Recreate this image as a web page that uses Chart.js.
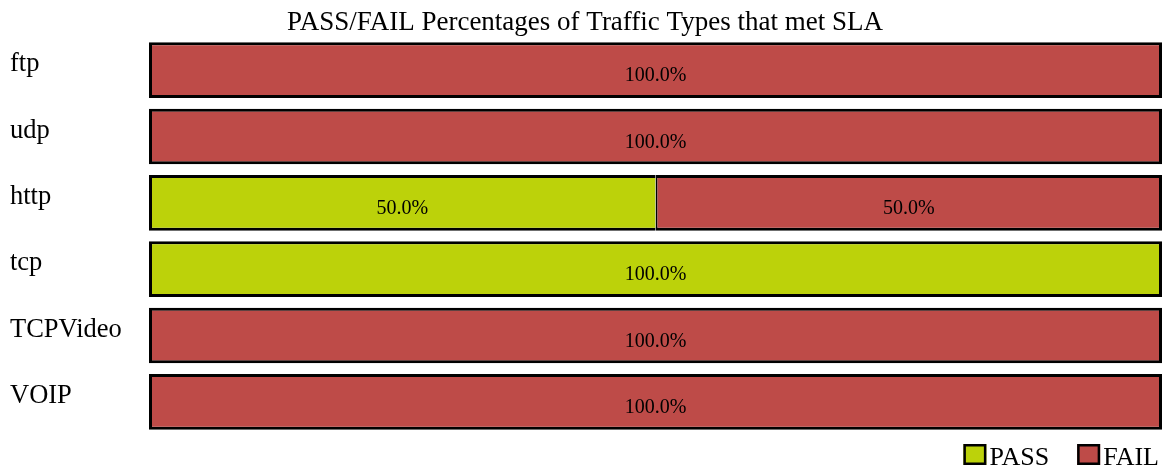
<!DOCTYPE html>
<html>
<head>
<meta charset="utf-8">
<script src="https://cdn.jsdelivr.net/npm/chart.js@4.4.1/dist/chart.umd.min.js"></script>
<style>
html,body{margin:0;padding:0;background:#fff;}
#wrap{width:1167px;height:468px;position:relative;}
</style>
</head>
<body>
<div id="wrap"><canvas id="c" width="1167" height="468"></canvas></div>
<script>
const titleText = 'PASS/FAIL Percentages of Traffic Types that met SLA';
const categories = ['ftp', 'udp', 'http', 'tcp', 'TCPVideo', 'VOIP'];
const seriesNames = ['PASS', 'FAIL'];
const passValues = [0, 0, 50, 100, 0, 0];
const failValues = [100, 100, 50, 0, 100, 100];
const passColor = '#BCD20A';
const failColor = '#BE4B48';
const FONT = '"Liberation Serif", "Times New Roman", serif';

const overlay = {
  id: 'overlay',
  afterDraw(chart) {
    const ctx = chart.ctx;
    const y = chart.scales.y;
    ctx.save();
    ctx.fillStyle = '#000';
    // title
    ctx.font = '27px ' + FONT;
    ctx.textAlign = 'center';
    ctx.textBaseline = 'alphabetic';
    ctx.fillText(titleText, 585, 30);
    // category labels
    ctx.font = '26.5px ' + FONT;
    ctx.textAlign = 'left';
    categories.forEach((c, i) => {
      ctx.fillText(c, 10, y.getPixelForValue(i) + 1);
    });
    // data labels
    ctx.font = '20px ' + FONT;
    ctx.textAlign = 'center';
    chart.data.datasets.forEach((ds, di) => {
      const meta = chart.getDatasetMeta(di);
      meta.data.forEach((bar, i) => {
        const v = ds.data[i];
        if (!v) return;
        const cx = (bar.x + bar.base) / 2;
        ctx.fillText(v.toFixed(1) + '%', cx, bar.y + 11);
      });
    });
    // legend
    ctx.font = '26px ' + FONT;
    ctx.textAlign = 'left';
    const items = chart.data.datasets;
    const boxW = 23, boxH = 21, gap = 3, itemGap = 28;
    const widths = items.map(d => boxW + gap + ctx.measureText(d.label).width);
    const total = widths.reduce((a, b) => a + b, 0) + itemGap * (items.length - 1);
    let x = 1159 - total;
    const baseY = 465;
    items.forEach((d, i) => {
      ctx.fillStyle = d.backgroundColor;
      ctx.fillRect(x, baseY - boxH, boxW, boxH);
      ctx.lineWidth = 2.5;
      ctx.strokeStyle = '#000';
      ctx.strokeRect(x + 1.25, baseY - boxH + 1.25, boxW - 2.5, boxH - 2.5);
      ctx.fillStyle = '#000';
      ctx.fillText(d.label, x + boxW + gap, baseY);
      x += widths[i] + itemGap;
    });
    ctx.restore();
  }
};

new Chart(document.getElementById('c'), {
  type: 'bar',
  data: {
    labels: categories,
    datasets: [
      { label: seriesNames[0], data: passValues, backgroundColor: passColor, borderColor: '#000',
        borderWidth: (c) => (failValues[c.dataIndex] > 0 ? { top: 3, bottom: 3, left: 3, right: 0 } : 3),
        borderSkipped: false },
      { label: seriesNames[1], data: failValues, backgroundColor: failColor, borderColor: '#000',
        borderWidth: (c) => (passValues[c.dataIndex] > 0 ? { top: 3, bottom: 3, left: 2, right: 3 } : 3),
        borderSkipped: false }
    ]
  },
  options: {
    indexAxis: 'y',
    responsive: false,
    animation: false,
    layout: { padding: { left: 149, right: 5, top: 37, bottom: 33 } },
    plugins: { legend: { display: false }, title: { display: false }, tooltip: { enabled: false } },
    datasets: { bar: { barPercentage: 0.84, categoryPercentage: 1.0 } },
    scales: {
      x: { display: false, stacked: true, min: 0, max: 100 },
      y: { display: false, stacked: true }
    }
  },
  plugins: [overlay]
});
</script>
</body>
</html>
